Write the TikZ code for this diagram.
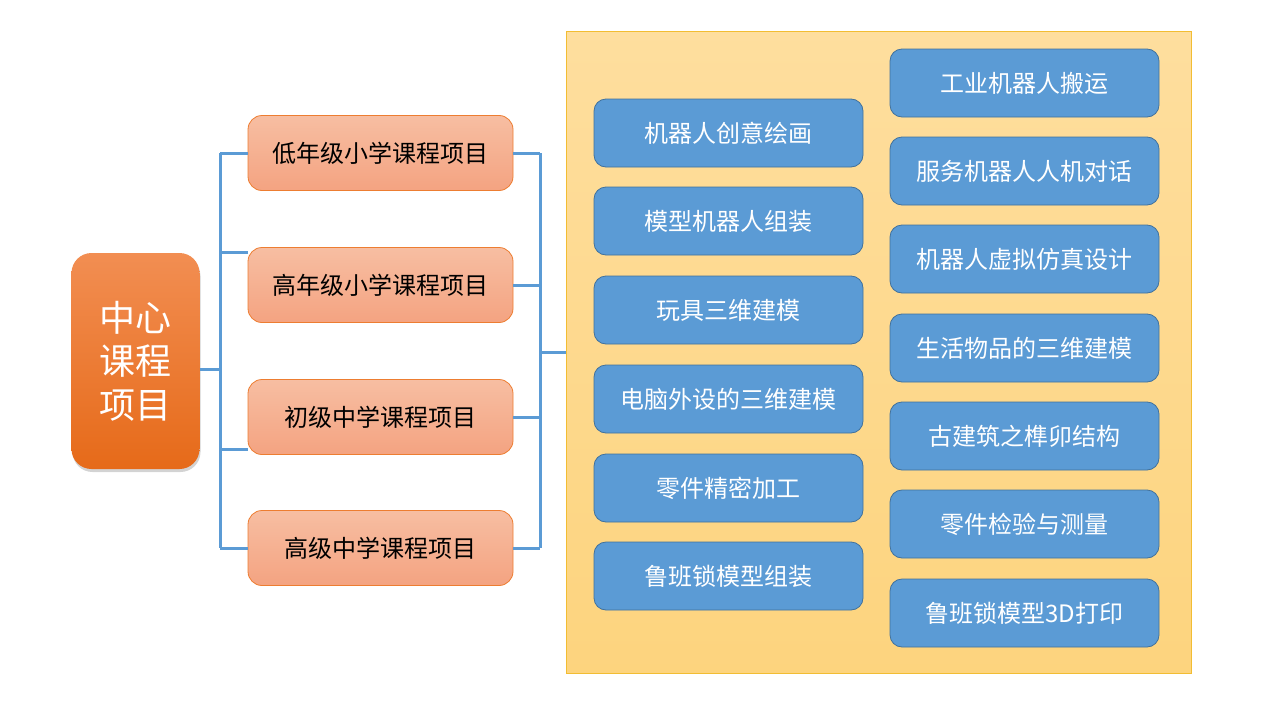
\documentclass[tikz,border=0pt]{standalone}
\usepackage{fontspec}
\setmainfont{Noto Sans CJK SC}
\usepackage{xcolor}
\usepackage{tikz}
\usetikzlibrary{calc}
\usetikzlibrary{shapes}
\usetikzlibrary{positioning}
\usetikzlibrary{shadows}
\definecolor{hubtop}{HTML}{F28E52}
\definecolor{hubbot}{HTML}{E66A19}
\definecolor{stagetop}{HTML}{F7BEA2}
\definecolor{stagebot}{HTML}{F4A381}
\definecolor{stageline}{HTML}{ED7D31}
\definecolor{itemfill}{HTML}{5B9BD5}
\definecolor{itemline}{HTML}{41719C}
\definecolor{paneltop}{HTML}{FEDE9E}
\definecolor{panelbot}{HTML}{FDD47E}
\definecolor{panelline}{HTML}{F2BD33}
\tikzstyle{hub} = [rectangle, rounded corners=20pt, top color=hubtop, bottom color=hubbot, draw=none, minimum width=128pt, minimum height=216pt, inner sep=0pt, align=center, text=white, font=\fontsize{36}{43.5}\selectfont, drop shadow={opacity=0.35, shadow xshift=1pt, shadow yshift=-3pt}]
\tikzstyle{stage} = [rectangle, rounded corners=14pt, top color=stagetop, bottom color=stagebot, draw=stageline, line width=0.8pt, minimum width=265pt, minimum height=75pt, inner sep=0pt, text=black, font=\fontsize{24}{28}\selectfont]
\tikzstyle{item} = [rectangle, rounded corners=12pt, fill=itemfill, draw=itemline, line width=0.8pt, minimum width=269pt, minimum height=68pt, inner sep=0pt, text=white, font=\fontsize{24}{28}\selectfont]
\tikzstyle{link} = [-, draw=itemfill, line width=3pt]

\begin{document}
\begin{tikzpicture}[x=1pt, y=-1pt]
\useasboundingbox (0,0) rectangle (1280,720);
% panel behind the course items
\node [rectangle, top color=paneltop, bottom color=panelbot, draw=panelline, line width=0.8pt, minimum width=625pt, minimum height=642pt, inner sep=0pt] (P) at (878.5, 352) {};

\node [hub] (C) at (135.5, 361) {中心\\课程\\项目};

\node [stage] (S1) at (380.5, 153) {低年级小学课程项目};
\node [stage] (S2) at (380.5, 285) {高年级小学课程项目};
\node [stage] (S3) at (380.5, 417) {初级中学课程项目};
\node [stage] (S4) at (380.5, 548) {高级中学课程项目};

\node [item] (L1) at (728.5, 133) {机器人创意绘画};
\node [item] (L2) at (728.5, 221) {模型机器人组装};
\node [item] (L3) at (728.5, 310) {玩具三维建模};
\node [item] (L4) at (728.5, 399) {电脑外设的三维建模};
\node [item] (L5) at (728.5, 488) {零件精密加工};
\node [item] (L6) at (728.5, 576) {鲁班锁模型组装};

\node [item] (R1) at (1024.5, 83) {工业机器人搬运};
\node [item] (R2) at (1024.5, 171) {服务机器人人机对话};
\node [item] (R3) at (1024.5, 259) {机器人虚拟仿真设计};
\node [item] (R4) at (1024.5, 348) {生活物品的三维建模};
\node [item] (R5) at (1024.5, 436) {古建筑之榫卯结构};
\node [item] (R6) at (1024.5, 524) {零件检验与测量};
\node [item] (R7) at (1024.5, 613) {鲁班锁模型3D打印};

% left bracket
\coordinate (JC) at (220, 369);
\coordinate (JA) at (220, 153);
\coordinate (JB) at (220, 252);
\coordinate (JD) at (220, 449);
\coordinate (JE) at (220, 548);
\draw [link] (C.east |- JC) to (JC);
\draw [link] (JA) to (JE);
\draw [link] (JA) to (S1.west);
\draw [link] (JB) to (S2.west |- JB);
\draw [link] (JD) to (S3.west |- JD);
\draw [link] (JE) to (S4.west);

% right bracket
\coordinate (KA) at (540, 153);
\coordinate (KE) at (540, 548);
\coordinate (KP) at (540, 352);
\draw [link] (KA) to (KE);
\draw [link] (S1.east) to (KA);
\draw [link] (S2.east) to (S2.east -| KA);
\draw [link] (S3.east) to (S3.east -| KA);
\draw [link] (S4.east) to (KE);
\draw [link] (KP) to (P.west);
\end{tikzpicture}
\end{document}
